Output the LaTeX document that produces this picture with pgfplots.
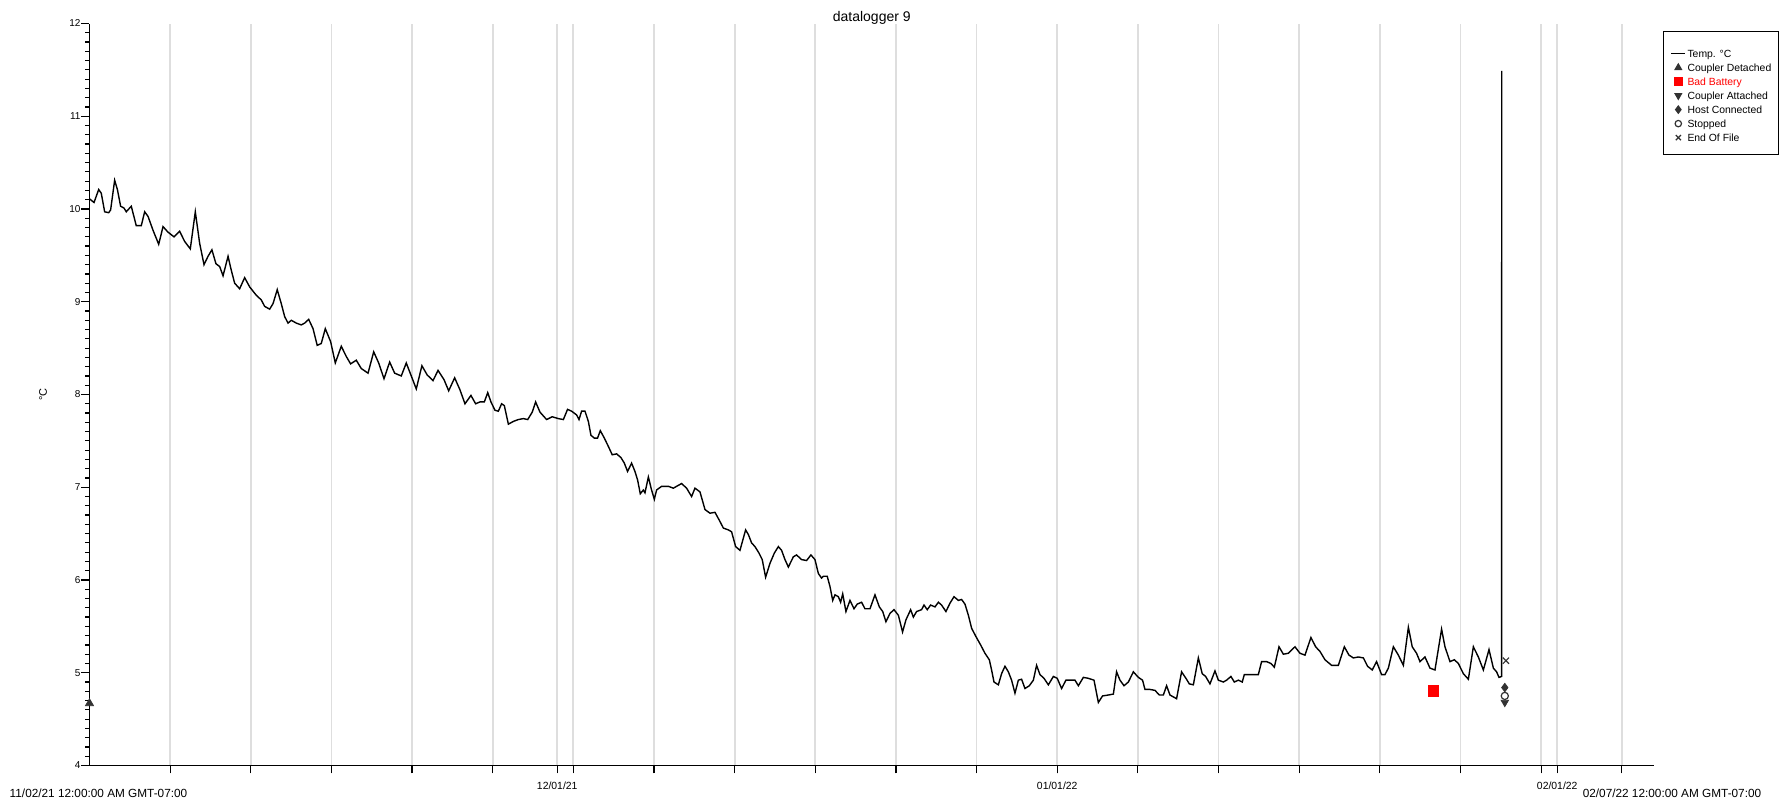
\documentclass[border=0pt]{standalone}
\usepackage{fontspec}
\setmainfont{Liberation Sans}
\usepackage{pgfplots}
\pgfplotsset{compat=1.18}
\usepackage{pgfplotstable}
\definecolor{gridgray}{RGB}{222,222,222}
\definecolor{markgray}{RGB}{50,50,50}
\pgfplotsset{
  lineleg/.style={legend image code/.code={\draw[##1] (0pt,-1.3pt) -- (7pt,-1.3pt);}},
  markleg/.style={legend image code/.code={\draw[##1, mark size=#1] plot coordinates {(3.5pt,-1.3pt)};}},
}

\pgfplotstableread{
day temp
0.00 10.11
0.28 10.07
0.57 10.21
0.73 10.17
0.94 9.97
1.19 9.96
1.31 9.99
1.56 10.31
1.73 10.21
1.93 10.03
2.14 10.01
2.28 9.97
2.59 10.03
2.90 9.82
3.21 9.82
3.42 9.97
3.63 9.92
3.94 9.77
4.29 9.62
4.56 9.81
4.87 9.75
5.24 9.70
5.59 9.76
5.90 9.65
6.25 9.57
6.56 9.97
6.83 9.63
7.10 9.40
7.35 9.49
7.59 9.56
7.84 9.41
8.07 9.38
8.28 9.28
8.59 9.49
8.79 9.34
9.00 9.20
9.31 9.14
9.62 9.26
9.93 9.16
10.34 9.07
10.65 9.02
10.86 8.95
11.17 8.92
11.38 8.98
11.64 9.13
11.89 8.98
12.10 8.84
12.31 8.77
12.51 8.80
12.82 8.77
13.13 8.75
13.34 8.77
13.59 8.81
13.86 8.71
14.12 8.53
14.37 8.55
14.62 8.71
14.95 8.57
15.24 8.34
15.61 8.52
15.92 8.41
16.19 8.33
16.54 8.37
16.85 8.28
17.27 8.23
17.62 8.46
17.93 8.34
18.26 8.17
18.61 8.35
18.92 8.23
19.33 8.20
19.64 8.34
19.95 8.20
20.26 8.06
20.61 8.31
20.94 8.21
21.30 8.15
21.61 8.26
21.98 8.16
22.27 8.04
22.64 8.18
22.97 8.05
23.28 7.90
23.65 7.99
23.94 7.90
24.21 7.92
24.48 7.92
24.69 8.02
24.89 7.92
25.14 7.83
25.35 7.82
25.55 7.90
25.72 7.88
25.97 7.68
26.28 7.71
26.59 7.73
26.90 7.74
27.17 7.73
27.45 7.81
27.66 7.92
27.93 7.81
28.34 7.73
28.69 7.76
29.07 7.74
29.38 7.73
29.64 7.84
29.89 7.82
30.20 7.78
30.35 7.73
30.51 7.82
30.72 7.82
30.93 7.71
31.09 7.56
31.30 7.53
31.50 7.53
31.67 7.61
31.92 7.53
32.17 7.44
32.41 7.35
32.68 7.36
32.95 7.32
33.16 7.26
33.36 7.17
33.61 7.26
33.82 7.17
33.98 7.08
34.15 6.93
34.34 6.97
34.44 6.94
34.65 7.11
34.85 6.97
35.02 6.87
35.16 6.97
35.47 7.01
35.89 7.01
36.20 6.99
36.40 7.01
36.71 7.04
37.02 6.99
37.33 6.90
37.54 6.99
37.85 6.95
38.16 6.76
38.47 6.72
38.78 6.73
39.03 6.65
39.30 6.56
39.61 6.54
39.81 6.52
40.06 6.36
40.33 6.32
40.68 6.54
40.85 6.49
41.05 6.40
41.26 6.36
41.51 6.29
41.71 6.22
41.92 6.03
42.19 6.18
42.46 6.29
42.71 6.36
42.91 6.32
43.12 6.22
43.33 6.14
43.64 6.25
43.84 6.27
44.15 6.22
44.46 6.21
44.73 6.27
44.98 6.22
45.19 6.07
45.39 6.02
45.50 6.04
45.74 6.04
45.91 5.93
46.08 5.78
46.22 5.84
46.43 5.82
46.57 5.76
46.70 5.85
46.90 5.66
47.15 5.78
47.40 5.69
47.60 5.74
47.87 5.76
48.08 5.69
48.39 5.69
48.70 5.84
48.97 5.71
49.18 5.66
49.38 5.55
49.63 5.64
49.88 5.68
50.15 5.62
50.41 5.44
50.62 5.57
50.91 5.68
51.08 5.60
51.28 5.66
51.59 5.68
51.74 5.73
51.94 5.68
52.15 5.73
52.42 5.71
52.63 5.76
52.83 5.73
53.10 5.66
53.35 5.75
53.60 5.82
53.87 5.78
54.07 5.79
54.28 5.74
54.49 5.62
54.69 5.48
54.96 5.39
55.25 5.30
55.52 5.21
55.79 5.14
55.93 5.03
56.08 4.90
56.35 4.87
56.55 4.99
56.76 5.07
56.97 5.01
57.17 4.92
57.38 4.78
57.59 4.92
57.79 4.93
58.00 4.83
58.27 4.86
58.52 4.92
58.72 5.08
58.93 4.98
59.18 4.94
59.45 4.87
59.76 4.96
60.00 4.94
60.27 4.83
60.54 4.92
60.83 4.92
61.10 4.92
61.31 4.86
61.62 4.95
61.93 4.94
62.28 4.92
62.55 4.68
62.81 4.75
63.17 4.76
63.48 4.77
63.68 5.01
63.89 4.92
64.14 4.86
64.41 4.90
64.72 5.01
65.03 4.95
65.29 4.92
65.44 4.82
65.75 4.82
66.06 4.81
66.33 4.76
66.58 4.76
66.78 4.86
66.99 4.76
67.40 4.72
67.71 5.01
67.98 4.94
68.19 4.88
68.44 4.87
68.75 5.16
68.99 4.99
69.20 4.96
69.47 4.88
69.78 5.02
69.99 4.92
70.30 4.90
70.50 4.92
70.77 4.96
70.98 4.90
71.23 4.92
71.47 4.90
71.60 4.98
71.95 4.98
72.47 4.98
72.67 5.12
72.98 5.12
73.25 5.10
73.46 5.06
73.75 5.28
74.02 5.20
74.33 5.21
74.74 5.28
75.05 5.21
75.36 5.19
75.73 5.38
76.02 5.28
76.29 5.23
76.60 5.14
77.01 5.08
77.43 5.08
77.80 5.28
78.09 5.19
78.36 5.16
78.67 5.17
78.98 5.16
79.24 5.07
79.53 5.03
79.80 5.12
80.11 4.98
80.32 4.98
80.53 5.05
80.84 5.28
81.15 5.19
81.46 5.08
81.77 5.49
82.01 5.28
82.28 5.21
82.49 5.12
82.80 5.17
83.11 5.05
83.42 5.03
83.83 5.47
84.04 5.28
84.35 5.12
84.62 5.14
84.87 5.10
85.18 4.99
85.49 4.93
85.80 5.28
86.11 5.17
86.42 5.03
86.77 5.25
87.04 5.05
87.24 5.01
87.39 4.95
87.55 4.96
87.56 11.49
}\temptable

\begin{document}
\begin{tikzpicture}
\path[use as bounding box] (-44.75pt,-18.75pt) rectangle (847.75pt,382.75pt);
\begin{axis}[
  at={(0,0)}, anchor=south west,
  scale only axis, width=782.25pt, height=371pt,
  xmin=0, xmax=97, ymin=4, ymax=12,
  clip=false,
  axis x line*=bottom, axis y line*=left,
  axis line style={-, line width=0.7pt, black},
  xtick={5,10,...,95}, xticklabels={},
  extra x ticks={29,60,91},
  extra x tick labels={12/01/21,01/01/22,02/01/22},
  extra x tick style={grid=major},
  xmajorgrids,
  grid style={gridgray, line width=0.9pt},
  ytick={4,...,12}, minor y tick num=9,
  tick align=outside,
  major tick length=4pt, minor tick length=2.2pt,
  tick style={black, line width=0.6pt},
  /pgf/number format/assume math mode=true,
  yticklabel style={font=\fontsize{5}{6}\selectfont, inner sep=0.3pt},
  xticklabel style={font=\fontsize{5.2}{6}\selectfont, yshift=-0.5pt},
  ylabel={°C},
  ylabel style={at={(axis description cs:-0.0297,0.5)}, anchor=center, font=\fontsize{5.5}{6}\selectfont},
  legend cell align=left,
  legend style={at={(axis description cs:1.00575,0.98989)}, anchor=north west,
    draw=black, line width=0.6pt, fill=white,
    font=\fontsize{5.2}{6}\selectfont,
    inner xsep=3.5pt, inner ysep=6.2pt, row sep=0pt, column sep=0.75pt,
    nodes={inner sep=0pt, text height=6.66pt, text depth=0.34pt}},
]
\addplot[black, line width=0.7pt, lineleg]
  table[x=day, y=temp] {\temptable};
\addlegendentry{Temp. °C}
\addplot[only marks, mark=triangle*, mark size=2.3pt, markgray, markleg=1.8pt]
  coordinates {(0,4.67)};
\addlegendentry{Coupler Detached}
\addplot[only marks, mark=square*, mark size=2.7pt, red, markleg=1.8pt]
  coordinates {(83.32,4.80)};
\addlegendentry{\textcolor{red}{Bad Battery}}
\addplot[only marks, mark=triangle*, mark options={rotate=180}, mark size=2.1pt, markgray, markleg=1.8pt]
  coordinates {(87.75,4.68)};
\addlegendentry{Coupler Attached}
\addplot[only marks, mark=diamond*, mark size=2.1pt, markgray, markleg=1.8pt]
  coordinates {(87.75,4.84)};
\addlegendentry{Host Connected}
\addplot[only marks, mark=*, mark size=1.8pt, draw=markgray, fill=white, mark options={line width=0.6pt}, markleg=1.6pt]
  coordinates {(87.75,4.75)};
\addlegendentry{Stopped}
\addplot[only marks, mark=x, mark size=2.2pt, markgray, mark options={line width=0.6pt}, markleg=1.8pt]
  coordinates {(87.82,5.13)};
\addlegendentry{End Of File}
\node[font=\fontsize{7}{8}\selectfont, anchor=base] at ([yshift=1.25pt]axis description cs:0.5,1) {datalogger 9};
\node[font=\fontsize{5.9}{6}\selectfont, anchor=center] at ([xshift=4.5pt,yshift=-13.75pt]axis cs:0,4) {11/02/21 12:00:00 AM GMT-07:00};
\node[font=\fontsize{5.9}{6}\selectfont, anchor=center] at ([xshift=9pt,yshift=-13.75pt]axis cs:97,4) {02/07/22 12:00:00 AM GMT-07:00};
\end{axis}
\end{tikzpicture}
\end{document}
